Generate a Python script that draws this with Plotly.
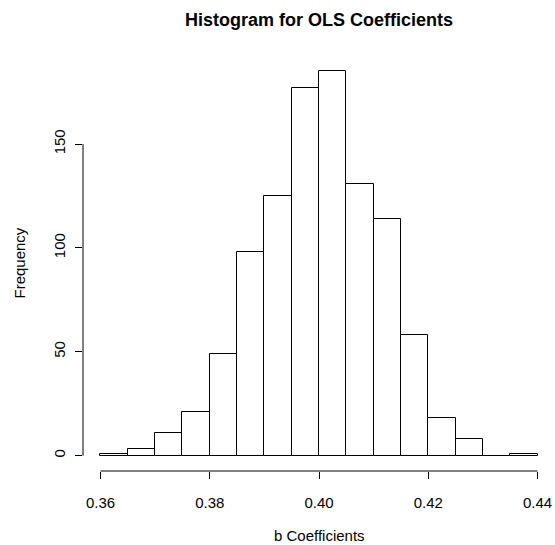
import plotly.graph_objects as go

bin_left = [0.360, 0.365, 0.370, 0.375, 0.380, 0.385, 0.390, 0.395,
            0.400, 0.405, 0.410, 0.415, 0.420, 0.425, 0.430, 0.435]
counts = [1, 3, 11, 21, 49, 98, 125, 177, 185, 131, 114, 58, 18, 8, 0, 1]
bin_width = 0.005
x_ticks = [0.36, 0.38, 0.40, 0.42, 0.44]
x_tick_labels = ["0.36", "0.38", "0.40", "0.42", "0.44"]
y_ticks = [0, 50, 100, 150]
y_tick_labels = ["0", "50", "100", "150"]

W, H = 555, 545
ml, mr, mt, mb = 83, 0, 56, 74
font = "Liberation Sans, Arial, sans-serif"

centers = [b + bin_width / 2 for b in bin_left]

fig = go.Figure(go.Bar(
    x=centers, y=counts, width=[bin_width] * len(counts),
    marker=dict(color="white", line=dict(color="black", width=1)),
    hoverinfo="x+y",
))

xmin, xmax = x_ticks[0], x_ticks[-1]
xpad = (xmax - xmin) * 0.04
ymax = max(counts)
ypad = ymax * 0.04

fig.update_layout(
    template="none",
    width=W, height=H,
    margin=dict(l=ml, r=mr, t=mt, b=mb, autoexpand=False),
    paper_bgcolor="white", plot_bgcolor="white",
    font=dict(family=font, size=15, color="black"),
    showlegend=False,
    bargap=0,
    title=dict(text="<b>Histogram for OLS Coefficients</b>",
               x=(ml + (W - ml - mr) / 2) / W, xanchor="center",
               y=1 - 20 / H, yanchor="middle", automargin=False,
               font=dict(family=font, size=18, color="black")),
    xaxis=dict(range=[xmin - xpad, xmax + xpad], showgrid=False, zeroline=False,
               showline=False, automargin=False,
               tickmode="array", tickvals=x_ticks,
               ticktext=x_tick_labels, ticks="outside", ticklen=7,
               tickcolor="black", tickwidth=1, ticklabelstandoff=11),
    yaxis=dict(range=[-ypad, ymax + ypad], showgrid=False, zeroline=False,
               showline=False, automargin=False,
               tickmode="array", tickvals=y_ticks,
               ticktext=y_tick_labels, ticks="outside", ticklen=7,
               tickcolor="black", tickwidth=1, tickangle=-90,
               ticklabelstandoff=4),
    shapes=[
        dict(type="line", xref="x", yref="paper", x0=xmin, x1=xmax, y0=0, y1=0,
             line=dict(color="black", width=1)),
        dict(type="line", xref="paper", yref="y", x0=0, x1=0,
             y0=y_ticks[0], y1=y_ticks[-1], line=dict(color="black", width=1)),
    ],
    annotations=[
        dict(text="b Coefficients", xref="paper", yref="paper", x=0.5, y=0,
             xanchor="center", yanchor="middle", yshift=-64, showarrow=False,
             font=dict(family=font, size=15, color="black")),
        dict(text="Frequency", xref="paper", yref="paper", x=0, y=0.5,
             xanchor="center", yanchor="middle", xshift=-64, textangle=-90,
             showarrow=False, font=dict(family=font, size=15, color="black")),
    ],
)

fig.write_html(
    "out.html",
    config={"displayModeBar": False},
    post_script="document.body.style.margin='0';document.body.style.overflow='hidden';",
)
